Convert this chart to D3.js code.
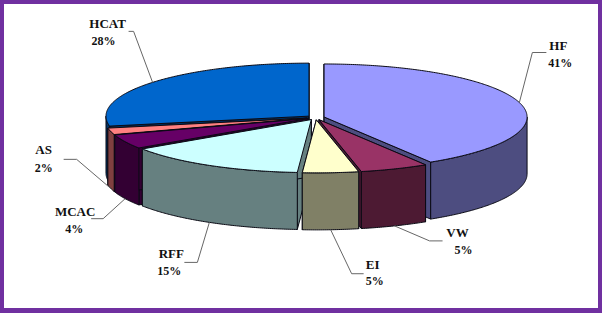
<!DOCTYPE html>
<html lang="en">
<head>
<meta charset="UTF-8">
<title>Pie</title>
<script src="https://d3js.org/d3.v7.min.js"></script>
<style>
  html, body { margin: 0; padding: 0; background: #fff; overflow: hidden; }
  text { font-family: "Liberation Serif", serif; font-weight: bold; fill: #111; }
</style>
</head>
<body>
<div id="chart"></div>
<script>
var names = ["HF", "VW", "EI", "RFF", "MCAC", "AS", "HCAT"];
var labels = ["41%", "5%", "5%", "15%", "4%", "2%", "28%"];
// slice sizes, they round to the labels
var values = [41.2, 5.45, 4.45, 14.55, 4.35, 2, 28];
var topColors = ["#9999FF", "#993366", "#FFFFCC", "#CCFFFF", "#660066", "#FF8080", "#0066CC"];
var wallColors = ["#4D4D80", "#4D1A33", "#808066", "#668080", "#330033", "#804040", "#003366"];

var width = 602, height = 313;
var cx = 315.7, cy = 117.6, rx = 203, ry = 53, depth = 57, explode = 8.7;

// back to front
var paintOrder = ["HCAT", "AS", "MCAC", "HF", "RFF", "VW", "EI"];

// leader elbow and end relative to the anchor on the rim, then label centre
var leaders = {
  HF:   {elbow: [13, -50], end: [27, -50], name: [39, -53], pct: [41, -36]},
  VW:   {elbow: [35, 15], end: [48, 15], name: [63, 11], pct: [69, 28]},
  EI:   {elbow: [21, 44], end: [33, 44], name: [42, 39], pct: [44, 55]},
  RFF:  {elbow: [-12, 40], end: [-25, 40], name: [-38, 36], pct: [-40, 53]},
  MCAC: {elbow: [-22, 20], end: [-34, 20], name: [-50, 17], pct: [-51, 34]},
  AS:   {elbow: [-34, -29], end: [-47, -29], name: [-67, -34], pct: [-67, -16]},
  HCAT: {elbow: [-19, -51], end: [-24, -51], name: [-45, -54], pct: [-49, -37]}
};

var svg = d3.select("#chart").append("svg")
  .attr("width", width)
  .attr("height", height)
  .style("display", "block");

svg.append("rect")
  .attr("x", 2).attr("y", 2)
  .attr("width", width - 4).attr("height", height - 5)
  .attr("fill", "#fff")
  .attr("stroke", "#7030A0")
  .attr("stroke-width", 4);
svg.append("rect")
  .attr("x", 0).attr("y", height - 5)
  .attr("width", width).attr("height", 5)
  .attr("fill", "#7030A0");

var slices = d3.pie().sort(null).value(function(d) { return d; })(values);

slices.forEach(function(s, i) {
  s.name = names[i];
  s.label = labels[i];
  s.top = topColors[i];
  s.wall = wallColors[i];
  s.mid = (s.startAngle + s.endAngle) / 2;
  s.ox = cx + explode * Math.sin(s.mid);
  s.oy = cy - explode * (ry / rx) * Math.cos(s.mid);
});

function rim(s, a) {
  return [s.ox + rx * Math.sin(a), s.oy - ry * Math.cos(a)];
}

function arcPoints(s, a0, a1) {
  var n = Math.max(2, Math.ceil((a1 - a0) / 0.01));
  return d3.range(n + 1).map(function(i) { return rim(s, a0 + (a1 - a0) * i / n); });
}

function down(p) { return [p[0], p[1] + depth]; }

var line = d3.line();

function closed(points) { return line(points) + "Z"; }

var pieG = svg.append("g")
  .attr("stroke", "#0a0a14")
  .attr("stroke-width", 1)
  .attr("stroke-linejoin", "round");

paintOrder.forEach(function(name) {
  var s = slices[names.indexOf(name)];
  var apex = [s.ox, s.oy];
  var g = pieG.append("g");

  // the two cut faces, the later slices paint over what should be hidden
  [s.startAngle, s.endAngle].forEach(function(a) {
    var p = rim(s, a);
    g.append("path")
      .attr("d", closed([apex, p, down(p), down(apex)]))
      .attr("fill", s.wall);
  });

  // outer wall, front half of the ellipse only
  var a0 = Math.max(s.startAngle, Math.PI / 2);
  var a1 = Math.min(s.endAngle, Math.PI * 1.5);
  if (a1 > a0) {
    var edge = arcPoints(s, a0, a1);
    g.append("path")
      .attr("d", closed(edge.concat(edge.map(down).reverse())))
      .attr("fill", s.wall);
  }

  g.append("path")
    .attr("d", closed([apex].concat(arcPoints(s, s.startAngle, s.endAngle))))
    .attr("fill", s.top);
});

slices.forEach(function(s) {
  var l = leaders[s.name];
  var p = rim(s, s.mid);
  // on the front half the line leaves from the bottom of the wall
  if (Math.cos(s.mid) < 0) p = down(p);

  svg.append("path")
    .attr("d", line([p,
      [p[0] + l.elbow[0], p[1] + l.elbow[1]],
      [p[0] + l.end[0], p[1] + l.end[1]]]))
    .attr("fill", "none")
    .attr("stroke", "#666")
    .attr("stroke-width", 1);

  svg.append("text")
    .attr("x", p[0] + l.name[0])
    .attr("y", p[1] + l.name[1])
    .attr("text-anchor", "middle")
    .attr("font-size", 13)
    .text(s.name);

  svg.append("text")
    .attr("x", p[0] + l.pct[0])
    .attr("y", p[1] + l.pct[1])
    .attr("text-anchor", "middle")
    .attr("font-size", 12)
    .text(s.label);
});
</script>
</body>
</html>
